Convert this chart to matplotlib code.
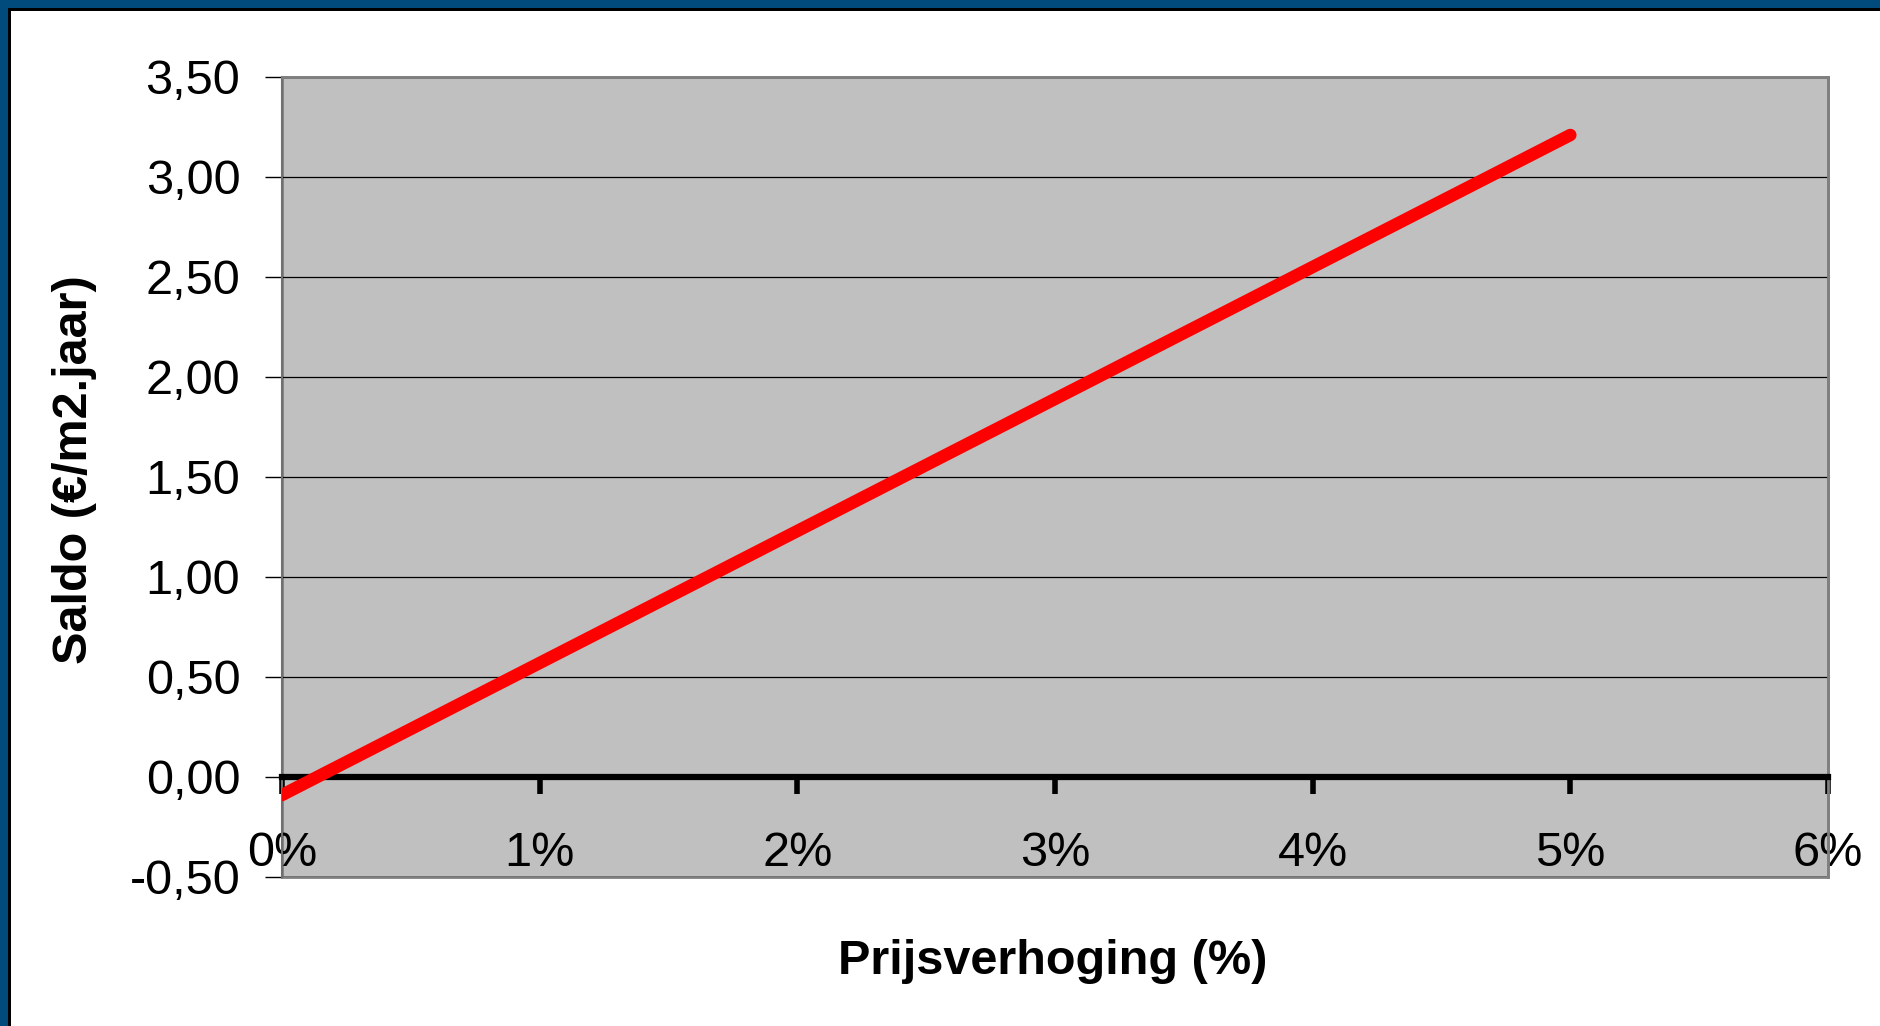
import matplotlib
matplotlib.use('Agg')
import matplotlib.pyplot as plt
from matplotlib.patches import Rectangle

# ─── Data ───────────────────────────────────────────────────────────
prijsverhoging = [0, 1, 2, 3, 4, 5]                     # %
saldo = [-0.09, 0.57, 1.23, 1.89, 2.55, 3.21]           # €/m2.jaar

x_ticks = [0, 1, 2, 3, 4, 5, 6]
x_labels = ['0%', '1%', '2%', '3%', '4%', '5%', '6%']
y_ticks = [-0.5, 0.0, 0.5, 1.0, 1.5, 2.0, 2.5, 3.0, 3.5]
y_labels = ['-0,50', '0,00', '0,50', '1,00', '1,50', '2,00', '2,50', '3,00', '3,50']

plt.rcParams.update({
    'font.family': ['Liberation Sans', 'DejaVu Sans'],
    'font.size': 35,
})

W, H = 1880, 1026
fig = plt.figure(figsize=(W / 100, H / 100), dpi=100)
fig.patch.set_facecolor('white')

# slide frame (blue band + black line, top and left only)
blue = '#004B7B'
fig.add_artist(Rectangle((0, 1 - 8 / H), 1, 8 / H, transform=fig.transFigure,
                         facecolor=blue, edgecolor='none'))
fig.add_artist(Rectangle((0, 1 - 11 / H), 1, 3 / H, transform=fig.transFigure,
                         facecolor='black', edgecolor='none'))
fig.add_artist(Rectangle((0, 0), 8 / W, 1, transform=fig.transFigure,
                         facecolor=blue, edgecolor='none'))
fig.add_artist(Rectangle((8 / W, 0), 3 / W, 1 - 8 / H, transform=fig.transFigure,
                         facecolor='black', edgecolor='none'))

ax = fig.add_axes([282 / W, 1 - 877 / H, 1546 / W, 800 / H])
ax.set_facecolor('#C0C0C0')
ax.patch.set_edgecolor('#808080')
ax.patch.set_linewidth(2)

ax.plot(prijsverhoging, saldo, color='#FF0000', linewidth=9,
        solid_capstyle='round', zorder=4)

ax.set_xlim(0, 6)
ax.set_ylim(-0.5, 3.5)
ax.set_yticks(y_ticks)
ax.set_yticklabels(y_labels)
ax.set_xticks(x_ticks)
ax.set_xticklabels(x_labels)

ax.grid(axis='y', color='black', linewidth=0.9)
ax.set_axisbelow(True)

for s in ['top', 'right']:
    ax.spines[s].set_color('#808080')
    ax.spines[s].set_linewidth(2)
ax.spines['left'].set_color('#707070')
ax.spines['left'].set_linewidth(1.5)
ax.spines['bottom'].set_position(('data', 0))
ax.spines['bottom'].set_color('black')
ax.spines['bottom'].set_linewidth(4.5)
ax.spines['bottom'].set_zorder(3)

ax.tick_params(axis='y', direction='out', length=12, width=1, color='black', pad=18)
ax.tick_params(axis='x', direction='out', length=12, width=4, color='black', pad=27)
for t in ax.xaxis.get_ticklines():
    t.set_solid_capstyle('round')

fig.text(75 / W, 1 - 470 / H, 'Saldo (€/m2.jaar)', rotation=90,
         ha='center', va='center', fontweight='bold')
fig.text(1053 / W, 1 - 962 / H, 'Prijsverhoging (%)',
         ha='center', va='center', fontweight='bold')

fig.savefig('out.png', dpi=100, facecolor='white')
